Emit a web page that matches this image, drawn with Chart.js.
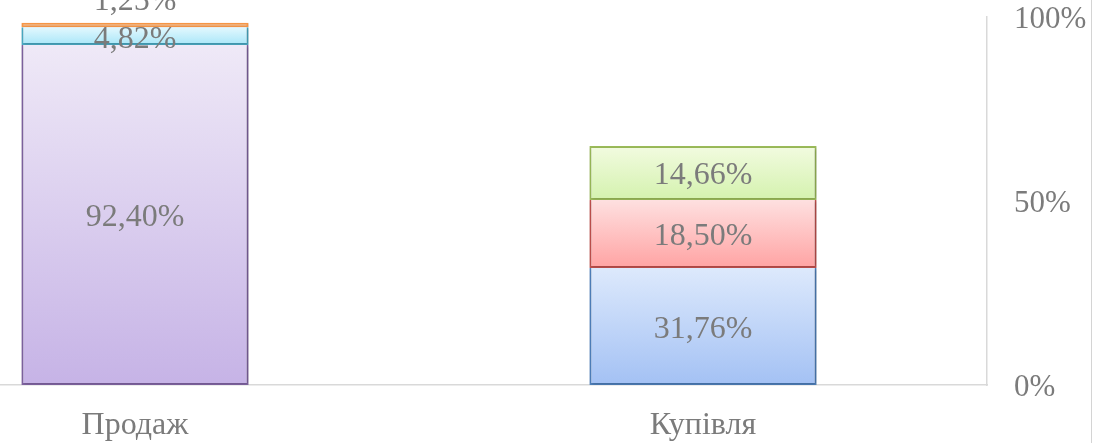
<!DOCTYPE html>
<html>
<head>
<meta charset="utf-8">
<script src="https://cdn.jsdelivr.net/npm/chart.js@4/dist/chart.umd.min.js"></script>
<style>
  html, body { margin: 0; padding: 0; background: #fff; }
  #frame { position: relative; width: 1099px; height: 443px; overflow: hidden; }
  #plot { position: absolute; left: -149px; top: 0; width: 1248px; height: 443px; }
  #edge { position: absolute; left: 1091px; top: 0; width: 1px; height: 443px; background: #d4d4d4; }
</style>
</head>
<body>
<div id="frame">
  <div id="plot"><canvas id="chart" width="1248" height="443"></canvas></div>
  <div id="edge"></div>
</div>
<script>
const categories = ["Продаж", "Купівля"];
const layer1 = [92.40, 31.76];
const layer2 = [4.82, 18.50];
const layer3 = [1.25, 14.66];
const yTicks = [0, 50, 100];

const FONT = "'Liberation Serif', 'Times New Roman', serif";
const GREY = "#7b7b7b";

// per layer, per category: [top colour, bottom colour]
const fills = [
  [["#efe9f7", "#c6b3e6"], ["#dde9fc", "#a3c1f4"]],
  [["#e3f8fe", "#a8e6f8"], ["#fee0e0", "#ffa3a3"]],
  [["#fde3cc", "#fbb47c"], ["#f2fbe0", "#d4f2ae"]]
];
const borders = [
  ["#8064a2", "#4f81bd"],
  ["#4bacc6", "#c0504d"],
  ["#f79646", "#9bbb59"]
];
const layers = [layer1, layer2, layer3];

function segmentFill(layer) {
  return ctx => {
    const chart = ctx.chart, i = ctx.dataIndex;
    const pair = fills[layer][i];
    const y = chart.scales.y;
    if (!chart.chartArea || !y) return pair[1];
    let below = 0;
    for (let k = 0; k < layer; k++) below += layers[k][i];
    const top = y.getPixelForValue(below + layers[layer][i]);
    const bottom = y.getPixelForValue(below);
    const g = chart.ctx.createLinearGradient(0, top, 0, bottom);
    g.addColorStop(0, pair[0]);
    g.addColorStop(1, pair[1]);
    return g;
  };
}

const shadow = {
  id: "shadow",
  beforeDatasetsDraw(chart) {
    const c = chart.ctx;
    c.save();
    c.shadowColor = "rgba(0,0,0,0.22)";
    c.shadowBlur = 3;
    c.shadowOffsetX = 1;
    c.shadowOffsetY = 1;
  },
  afterDatasetsDraw(chart) { chart.ctx.restore(); }
};

const valueLabels = {
  id: "valueLabels",
  afterDraw(chart) {
    const c = chart.ctx;
    c.save();
    c.font = `32px ${FONT}`;
    c.fillStyle = GREY;
    c.textAlign = "center";
    c.textBaseline = "middle";
    chart.data.datasets.forEach((ds, di) => {
      chart.getDatasetMeta(di).data.forEach((bar, i) => {
        const v = ds.data[i];
        const h = Math.abs(bar.base - bar.y);
        const y = h < 12 ? bar.y - 21 : (bar.y + bar.base) / 2 + 3;
        c.fillText(v.toFixed(2).replace(".", ",") + "%", bar.x, y);
      });
    });
    c.restore();
  }
};

new Chart(document.getElementById("chart"), {
  type: "bar",
  data: {
    labels: categories,
    datasets: layers.map((data, k) => ({
      data,
      backgroundColor: segmentFill(k),
      borderColor: borders[k],
      borderWidth: 2,
      // the segment above draws the shared edge
      borderSkipped: k < layers.length - 1 ? "top" : false,
      barPercentage: 0.4,
      categoryPercentage: 1
    }))
  },
  options: {
    responsive: false,
    animation: false,
    layout: { padding: 0 },
    plugins: { legend: { display: false }, tooltip: { enabled: false } },
    scales: {
      x: {
        stacked: true,
        afterFit: s => { s.height = 58; },
        grid: { display: false },
        border: { color: "#d9d9d9", width: 1.5 },
        ticks: { color: GREY, font: { family: FONT, size: 32 }, padding: 13 }
      },
      y: {
        stacked: true,
        position: "right",
        min: 0,
        max: 100,
        afterBuildTicks: s => { s.ticks = yTicks.map(value => ({ value })); },
        afterFit: s => { s.width = 112; s.paddingTop = 17; s.paddingBottom = 0; },
        grid: { display: false },
        border: { color: "#d9d9d9", width: 1.5 },
        ticks: {
          color: GREY,
          font: { family: FONT, size: 31 },
          padding: 19,
          labelOffset: 3,
          callback: v => v + "%"
        }
      }
    }
  },
  plugins: [shadow, valueLabels]
});
</script>
</body>
</html>
